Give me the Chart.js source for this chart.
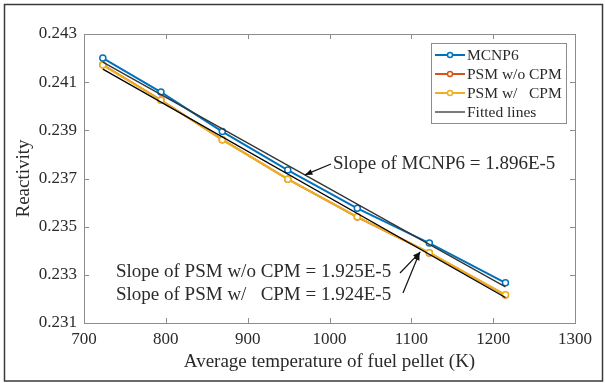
<!DOCTYPE html>
<html>
<head>
<meta charset="utf-8">
<script src="https://cdn.jsdelivr.net/npm/chart.js@4"></script>
<style>
  html, body { margin: 0; padding: 0; background: #fff; }
  #wrap { position: relative; width: 605px; height: 383px; }
</style>
</head>
<body>
<div id="wrap"><canvas id="reactivity" width="605" height="383"></canvas></div>
<script>
// values
const temps = [723, 794, 869, 949, 1034, 1122, 1215];
const mcnp6 = [0.24200, 0.24059, 0.23895, 0.23735, 0.23576, 0.23432, 0.23267];
const psmNoCpm = [0.24172, 0.24026, 0.23861, 0.23697, 0.23540, 0.23391, 0.23216];
const psmCpm = [0.24171, 0.24025, 0.23861, 0.23697, 0.23541, 0.23392, 0.23217];
const fitX = [723, 1215];
const fitMcnp6 = [0.24183, 0.23250];
const fitPsm = [0.24154, 0.23206];
const yTicks = [0.231, 0.233, 0.235, 0.237, 0.239, 0.241, 0.243];
const xTicks = [700, 800, 900, 1000, 1100, 1200, 1300];

const serif = "'Liberation Serif', 'Times New Roman', serif";
const axisGray = '#8c8c8c';
const textColor = '#2a2a2a';

const pts = (xs, ys) => xs.map((x, i) => ({ x: x, y: ys[i] }));

function series(label, data, color, order) {
  return {
    label: label,
    data: data,
    borderColor: color,
    backgroundColor: color,
    borderWidth: 2,
    pointRadius: 3,
    pointBorderWidth: 1.5,
    pointBackgroundColor: '#ffffff',
    pointBorderColor: color,
    pointStyle: 'circle',
    tension: 0,
    order: order
  };
}

const data = {
  datasets: [
    series('MCNP6', pts(temps, mcnp6), '#0072BD', 1),
    series('PSM w/o CPM', pts(temps, psmNoCpm), '#D95319', 3),
    series('PSM w/   CPM', pts(temps, psmCpm), '#EDB120', 2),
    { label: 'Fitted lines', data: pts(fitX, fitMcnp6), borderColor: '#333333', borderWidth: 1.3, pointRadius: 0, order: 0 },
    { label: 'Fitted lines', data: pts(fitX, fitPsm), borderColor: '#000000', borderWidth: 1.3, pointRadius: 0, order: 0 }
  ]
};

// box, inward ticks, legend, slope notes
const matlabLook = {
  id: 'matlabLook',
  afterDatasetsDraw(chart) {
    const ctx = chart.ctx;
    const a = chart.chartArea;
    const xs = chart.scales.x, ys = chart.scales.y;
    ctx.save();
    ctx.strokeStyle = axisGray;
    ctx.lineWidth = 1;
    ctx.strokeRect(Math.round(a.left) + 0.5, Math.round(a.top) + 0.5,
      Math.round(a.right - a.left), Math.round(a.bottom - a.top));
    ctx.beginPath();
    xTicks.forEach(v => {
      const px = Math.round(xs.getPixelForValue(v)) + 0.5;
      ctx.moveTo(px, a.bottom); ctx.lineTo(px, a.bottom - 5);
      ctx.moveTo(px, a.top); ctx.lineTo(px, a.top + 5);
    });
    yTicks.forEach(v => {
      const py = Math.round(ys.getPixelForValue(v)) + 0.5;
      ctx.moveTo(a.left, py); ctx.lineTo(a.left + 5, py);
      ctx.moveTo(a.right, py); ctx.lineTo(a.right - 5, py);
    });
    ctx.stroke();

    // legend
    const seen = [];
    const items = chart.data.datasets.filter(d => {
      if (seen.includes(d.label)) return false;
      seen.push(d.label); return true;
    });
    const lx = 431, ly = 43, lw = 135, rowH = 19;
    ctx.fillStyle = '#fff';
    ctx.fillRect(lx, ly, lw, rowH * items.length + 4);
    ctx.strokeStyle = axisGray;
    ctx.lineWidth = 1;
    ctx.strokeRect(lx + 0.5, ly + 0.5, lw, rowH * items.length + 4);
    ctx.font = '15.5px ' + serif;
    ctx.textBaseline = 'middle';
    items.forEach((d, i) => {
      const cy = ly + 12 + i * rowH;
      ctx.strokeStyle = d.borderColor;
      ctx.lineWidth = d.borderWidth;
      ctx.beginPath(); ctx.moveTo(lx + 4, cy); ctx.lineTo(lx + 34, cy); ctx.stroke();
      if (d.pointRadius) {
        ctx.beginPath(); ctx.arc(lx + 19, cy, 2.5, 0, Math.PI * 2);
        ctx.fillStyle = '#fff'; ctx.fill();
        ctx.lineWidth = 1.5; ctx.stroke();
      }
      ctx.fillStyle = textColor;
      ctx.fillText(d.label, lx + 36, cy + 1);
    });

    // slope notes with arrows
    ctx.font = '19px ' + serif;
    ctx.fillStyle = textColor;
    ctx.textBaseline = 'middle';
    ctx.fillText('Slope of MCNP6 = 1.896E-5', 333, 164);
    ctx.fillText('Slope of PSM w/o CPM = 1.925E-5', 116, 272);
    ctx.fillText('Slope of PSM w/   CPM = 1.924E-5', 116, 295);
    const arrow = (x1, y1, x2, y2) => {
      ctx.strokeStyle = '#111'; ctx.lineWidth = 1.2;
      ctx.beginPath(); ctx.moveTo(x1, y1); ctx.lineTo(x2, y2); ctx.stroke();
      const ang = Math.atan2(y2 - y1, x2 - x1);
      ctx.fillStyle = '#111';
      ctx.beginPath();
      ctx.moveTo(x2, y2);
      ctx.lineTo(x2 - 8 * Math.cos(ang - 0.38), y2 - 8 * Math.sin(ang - 0.38));
      ctx.lineTo(x2 - 8 * Math.cos(ang + 0.38), y2 - 8 * Math.sin(ang + 0.38));
      ctx.closePath(); ctx.fill();
    };
    arrow(331, 164, xs.getPixelForValue(970), ys.getPixelForValue(0.23715));
    arrow(400, 273, xs.getPixelForValue(1111), ys.getPixelForValue(0.23395));
    arrow(403, 293, xs.getPixelForValue(1110), ys.getPixelForValue(0.23392));

    // outer frame
    ctx.strokeStyle = '#3a3a3a';
    ctx.lineWidth = 1.5;
    ctx.strokeRect(4.5, 4.5, 598, 376.5);
    ctx.restore();
  }
};

new Chart('reactivity', {
  type: 'line',
  data: data,
  options: {
    responsive: false,
    animation: false,
    layout: { padding: { top: 34, right: 30, left: 0, bottom: 0 } },
    scales: {
      x: {
        type: 'linear',
        min: 700, max: 1300,
        afterFit: s => { s.height = 60; },
        afterBuildTicks: s => { s.ticks = xTicks.map(v => ({ value: v })); },
        grid: { display: false, drawTicks: false },
        border: { display: false },
        ticks: { color: textColor, font: { family: serif, size: 17 }, padding: 6, maxRotation: 0,
          callback: v => String(v) },
        title: { display: true, text: 'Average temperature of fuel pellet (K)', color: textColor,
          font: { family: serif, size: 19 }, padding: { top: 0, bottom: 10 } }
      },
      y: {
        min: 0.231, max: 0.243,
        afterFit: s => { s.width = 84; },
        afterBuildTicks: s => { s.ticks = yTicks.map(v => ({ value: v })); },
        grid: { display: false, drawTicks: false },
        border: { display: false },
        ticks: { color: textColor, font: { family: serif, size: 17 }, padding: 7,
          callback: v => v.toFixed(3) },
        title: { display: true, text: 'Reactivity', color: textColor,
          font: { family: serif, size: 19 }, padding: { top: 13, bottom: 0 } }
      }
    },
    plugins: {
      legend: { display: false },
      tooltip: { enabled: false }
    }
  },
  plugins: [matlabLook]
});
</script>
</body>
</html>
